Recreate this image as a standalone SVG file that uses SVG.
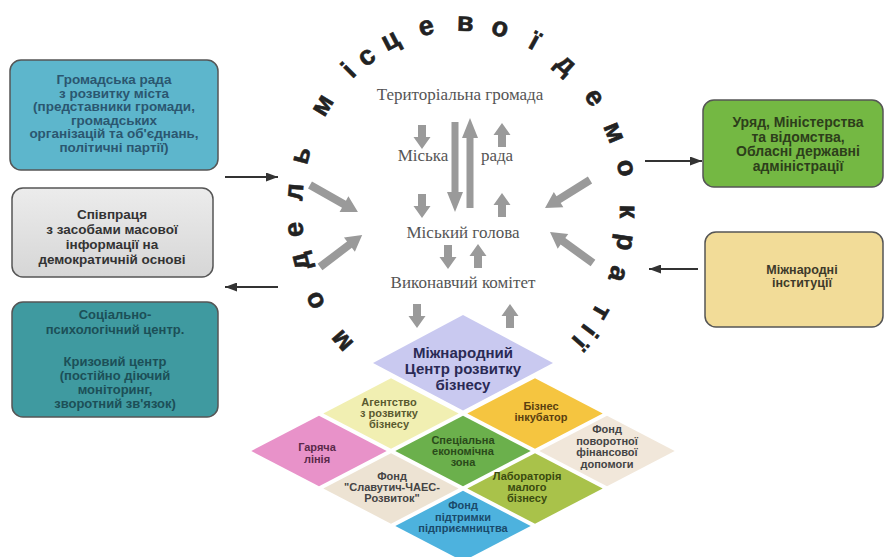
<svg xmlns="http://www.w3.org/2000/svg" width="887" height="557" viewBox="0 0 887 557">
<style>
.box{stroke:#555;stroke-width:1.5}
.bt{font-family:"Liberation Sans",Arial,sans-serif;font-weight:bold;font-size:13px;text-anchor:middle}
.ct{font-family:"Liberation Serif","Times New Roman",serif;font-size:17px;fill:#555;text-anchor:middle}
.cl{font-family:"Liberation Sans",Arial,sans-serif;font-weight:bold;font-size:27px;fill:#222;stroke:#222;stroke-width:0.6;text-anchor:middle}
.ga{fill:#9a9a9a}
.bl{stroke:#333;stroke-width:2.2;fill:none;marker-end:url(#ah)}
.dt{font-family:"Liberation Sans",Arial,sans-serif;font-weight:bold;font-size:11px;text-anchor:middle}
</style>
<defs>
<marker id="ah" markerWidth="12" markerHeight="9" refX="12" refY="4.5" orient="auto" markerUnits="userSpaceOnUse"><path d="M0,0 L12,4.5 L0,9 Z" fill="#333"/></marker>
<path id="sd" d="M-4,0 H4 V12 H8.5 L0,24 L-8.5,12 H-4 Z"/>
<path id="su" d="M-4,24 H4 V12 H8.5 L0,0 L-8.5,12 H-4 Z"/>
<path id="dia" d="M0,-35.2 L67.7,0 L0,35.2 L-67.7,0 Z"/>
<linearGradient id="gg" x1="0" y1="0" x2="0" y2="1"><stop offset="0" stop-color="#ececec"/><stop offset="1" stop-color="#d6d6d6"/></linearGradient>
</defs>
<rect width="887" height="557" fill="#fff"/>

<g id="box-gromadska-rada">
<rect class="box" x="10" y="60" width="208" height="110" rx="11" fill="#5db6cc"/>
<text class="bt" fill="#2b5670" style="font-size:13.5px"><tspan x="114" y="84">Громадська рада</tspan><tspan x="114" y="97.5">з розвитку міста</tspan><tspan x="114" y="111">(представники громади,</tspan><tspan x="114" y="124.5">громадських</tspan><tspan x="114" y="138">організацій та об'єднань,</tspan><tspan x="114" y="151.5">політичні партії)</tspan></text>
</g>
<g id="box-spivpratsia">
<rect class="box" x="12" y="188" width="201" height="89" rx="11" fill="url(#gg)" stroke="#777"/>
<text class="bt" fill="#333" style="font-size:13.5px"><tspan x="112" y="219">Співпраця</tspan><tspan x="112" y="234">з засобами масової</tspan><tspan x="112" y="249">інформації на</tspan><tspan x="112" y="264">демократичній основі</tspan></text>
</g>
<g id="box-sotsialno">
<rect class="box" x="12" y="302" width="206" height="115" rx="11" fill="#3f9aa0"/>
<text class="bt" fill="#1c4f57"><tspan x="115" y="319">Соціально-</tspan><tspan x="115" y="334">психологічний центр.</tspan><tspan x="115" y="366">Кризовий центр</tspan><tspan x="115" y="380">(постійно діючий</tspan><tspan x="115" y="394">моніторинг,</tspan><tspan x="115" y="408">зворотний зв'язок)</tspan></text>
</g>
<g id="box-uriad">
<rect class="box" x="703" y="100" width="180" height="87" rx="11" fill="#74b843"/>
<text class="bt" fill="#2d3e1b" style="font-size:14px"><tspan x="798" y="127">Уряд, Міністерства</tspan><tspan x="798" y="141.5">та відомства,</tspan><tspan x="798" y="156">Обласні державні</tspan><tspan x="798" y="170.5">адміністрації</tspan></text>
</g>
<g id="box-mizhnarodni">
<rect class="box" x="705" y="232" width="178" height="95" rx="11" fill="#f2dc98"/>
<text class="bt" fill="#3e3a2a" style="font-size:12.5px"><tspan x="802" y="274">Міжнародні</tspan><tspan x="802" y="287">інституції</tspan></text>
</g>

<g id="circle-text" class="cl">
<text transform="translate(341.2,341.8) rotate(-131.3)" dy="9">м</text>
<text transform="translate(314.1,301.1) rotate(-116.3)" dy="9">о</text>
<text transform="translate(299.5,261.8) rotate(-104.4)" dy="9">д</text>
<text transform="translate(293.9,229.6) rotate(-95.4)" dy="9">е</text>
<text transform="translate(293.8,192.0) rotate(-85.1)" dy="9">л</text>
<text transform="translate(300.3,155.0) rotate(-74.7)" dy="9">ь</text>
<text transform="translate(321.7,104.9) rotate(-58.9)" dy="9">м</text>
<text transform="translate(348.6,70.3) rotate(-45.2)" dy="9">і</text>
<text transform="translate(366,56) rotate(-37)" dy="9">с</text>
<text transform="translate(390,39.6) rotate(-27.5)" dy="9">ц</text>
<text transform="translate(426.1,26.1) rotate(-13.4)" dy="9">е</text>
<text transform="translate(465.4,22.1) rotate(1.7)" dy="9">в</text>
<text transform="translate(500.2,27.2) rotate(15)" dy="9">о</text>
<text transform="translate(534.6,41) rotate(28.6)" dy="9">ї</text>
<text transform="translate(566.7,63.9) rotate(42.2)" dy="9">д</text>
<text transform="translate(595.2,96.9) rotate(56)" dy="9">е</text>
<text transform="translate(615,132) rotate(67.8)" dy="9">м</text>
<text transform="translate(627,167.7) rotate(78.3)" dy="9">о</text>
<text transform="translate(629,211.6) rotate(90.4)" dy="9">к</text>
<text transform="translate(626.4,242.6) rotate(99)" dy="9">р</text>
<text transform="translate(618.9,274.3) rotate(108)" dy="9">а</text>
<text transform="translate(601.9,312.4) rotate(120.1)" dy="9">т</text>
<text transform="translate(589.7,330.8) rotate(126.9)" dy="9">і</text>
<text transform="translate(579.8,342.9) rotate(131.8)" dy="9">ї</text>
</g>

<g id="center-labels">
<text class="ct" x="460" y="100">Територіальна громада</text>
<text class="ct" x="423" y="161">Міська</text>
<text class="ct" x="497" y="161">рада</text>
<text class="ct" x="463" y="238">Міський голова</text>
<text class="ct" x="463" y="288">Виконавчий комітет</text>
</g>

<g id="connectors">
<g class="ga">
<use href="#sd" x="422" y="125"/>
<use href="#su" x="502" y="123"/>
<use href="#sd" x="422" y="194"/>
<use href="#su" x="502" y="193"/>
<use href="#sd" x="448" y="245"/>
<use href="#su" x="478" y="244"/>
<use href="#sd" x="417" y="304"/>
<use href="#su" x="510" y="304"/>
<path d="M451.5,122 H458.5 V192 H463 L455,212 L447,192 H451.5 Z"/>
<path d="M466.5,208 H473.5 V138 H478 L470,118 L462,138 H466.5 Z"/>
<path transform="translate(310,185) rotate(29.4)" d="M0,-4 H39 V-9 L55,0 L39,9 V4 H0 Z"/>
<path transform="translate(320,267) rotate(-37.3)" d="M0,-4 H37 V-9 L53,0 L37,9 V4 H0 Z"/>
<path transform="translate(590,180) rotate(148.1)" d="M0,-4 H37 V-9 L53,0 L37,9 V4 H0 Z"/>
<path transform="translate(593,263) rotate(-144.2)" d="M0,-4 H37 V-9 L53,0 L37,9 V4 H0 Z"/>
</g>
<line class="bl" x1="225" y1="177" x2="278" y2="177"/>
<line class="bl" x1="278" y1="287" x2="225" y2="287"/>
<line class="bl" x1="645" y1="161" x2="702" y2="161"/>
<line class="bl" x1="698" y1="269" x2="649" y2="269"/>
</g>

<g id="d-main"><polygon points="463,315 553,363 463,410.5 373,363" fill="#c9c9f0"/><text class="dt" fill="#2a2a55" style="font-size:15px"><tspan x="463" y="358">Міжнародний</tspan><tspan x="463" y="374">Центр розвитку</tspan><tspan x="463" y="390">бізнесу</tspan></text></g>
<g id="d-ahentstvo"><use href="#dia" x="391" y="413.5" fill="#f1efb2"/><text class="dt" fill="#5a5a30"><tspan x="389" y="406">Агентство</tspan><tspan x="389" y="417">з розвитку</tspan><tspan x="389" y="428">бізнесу</tspan></text></g>
<g id="d-biznes"><use href="#dia" x="535" y="413.5" fill="#f5c540"/><text class="dt" fill="#5a4010"><tspan x="541" y="410">Бізнес</tspan><tspan x="541" y="421">інкубатор</tspan></text></g>
<g id="d-hariacha"><use href="#dia" x="319" y="451" fill="#e892c9"/><text class="dt" fill="#5a2a4a"><tspan x="317" y="451">Гаряча</tspan><tspan x="317" y="463">лінія</tspan></text></g>
<g id="d-spetsialna"><use href="#dia" x="463" y="451" fill="#6bb04c"/><text class="dt" fill="#2a4a1a"><tspan x="463" y="444">Спеціальна</tspan><tspan x="463" y="455">економічна</tspan><tspan x="463" y="466">зона</tspan></text></g>
<g id="d-povorotnoi"><use href="#dia" x="607" y="451" fill="#f1e7da"/><text class="dt" fill="#444"><tspan x="607" y="433">Фонд</tspan><tspan x="607" y="444.5">поворотної</tspan><tspan x="607" y="456">фінансової</tspan><tspan x="607" y="467.5">допомоги</tspan></text></g>
<g id="d-slavutych"><use href="#dia" x="391" y="488.5" fill="#ede3d3"/><text class="dt" fill="#444"><tspan x="392" y="480">Фонд</tspan><tspan x="392" y="491">"Славутич-ЧАЕС-</tspan><tspan x="392" y="502">Розвиток"</tspan></text></g>
<g id="d-laboratoriia"><use href="#dia" x="535" y="488.5" fill="#a9c24a"/><text class="dt" fill="#3a4a10"><tspan x="527" y="480">Лабораторія</tspan><tspan x="527" y="491">малого</tspan><tspan x="527" y="502">бізнесу</tspan></text></g>
<g id="d-pidtrymky"><use href="#dia" x="463" y="526" fill="#4db2de"/><text class="dt" fill="#1a4a6a"><tspan x="463" y="509">Фонд</tspan><tspan x="463" y="520.5">підтримки</tspan><tspan x="463" y="532">підприємництва</tspan></text></g>
</svg>
